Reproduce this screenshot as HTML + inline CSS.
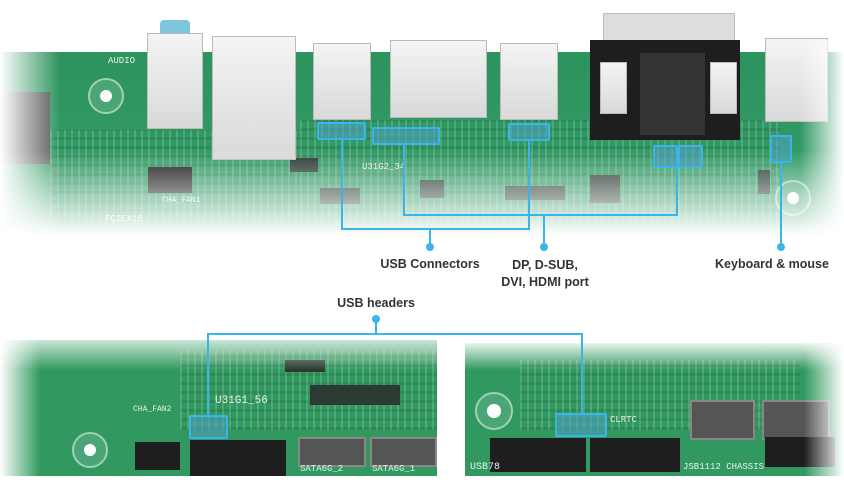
<!DOCTYPE html>
<html><head><meta charset="utf-8"><style>
*{margin:0;padding:0;box-sizing:border-box}
body{width:844px;height:501px;background:#fff;position:relative;overflow:hidden;font-family:"Liberation Sans",sans-serif}
.a{position:absolute}
.g{background:#2f9a62}
.tx{background-image:repeating-linear-gradient(90deg,rgba(220,240,230,.18) 0 2px,rgba(0,0,0,0) 2px 7px),repeating-linear-gradient(0deg,rgba(0,0,0,.10) 0 3px,rgba(0,0,0,0) 3px 9px)}
.w{background:linear-gradient(#f4f4f4,#d9d9d9);border:1px solid #bbb}
.k{background:#1e1e1e}
.c{background:#2b3b33}
.box{position:absolute;border:2px solid #3bb4ea;background:rgba(80,160,200,.55);border-radius:2px}
.l{position:absolute;background:#3bb4ea}
.dot{position:absolute;width:8px;height:8px;border-radius:50%;background:#3bb4ea}
.t{position:absolute;font-size:12.5px;font-weight:bold;color:#333;text-align:center;white-space:nowrap}
.s{position:absolute;font-size:9px;color:#e8f2ec;font-family:"Liberation Mono",monospace}
.hole{position:absolute;border-radius:50%;background:#4aa676;border:2px solid #9fd1b5}
.hole::after{content:"";position:absolute;left:30%;top:30%;width:40%;height:40%;border-radius:50%;background:#fff}
</style></head><body>
<!-- top board -->
<div class="a g" style="left:0;top:52px;width:844px;height:190px;background:linear-gradient(#2d935e,#34a06a)"></div>
<div class="a tx" style="left:300px;top:120px;width:480px;height:110px"></div>
<div class="a tx" style="left:50px;top:130px;width:250px;height:100px"></div>
<div class="a c" style="left:0;top:92px;width:50px;height:72px;background:#555"></div>
<div class="hole" style="left:88px;top:78px;width:36px;height:36px"></div>
<div class="hole" style="left:775px;top:180px;width:36px;height:36px"></div>
<div class="s" style="left:108px;top:56px">AUDIO</div>
<div class="s" style="left:105px;top:214px">PCIEX16</div>
<div class="s" style="left:162px;top:196px;font-size:8px">CHA_FAN1</div>
<div class="s" style="left:362px;top:162px">U31G2_34</div>
<div class="a k" style="left:148px;top:167px;width:44px;height:26px"></div>
<div class="a c" style="left:320px;top:188px;width:40px;height:16px"></div>
<div class="a c" style="left:590px;top:175px;width:30px;height:28px"></div>
<div class="a c" style="left:505px;top:186px;width:60px;height:14px"></div>
<div class="a c" style="left:420px;top:180px;width:24px;height:18px"></div>
<div class="a c" style="left:290px;top:158px;width:28px;height:14px"></div>
<div class="a c" style="left:758px;top:170px;width:12px;height:24px"></div>
<div class="a" style="left:160px;top:20px;width:30px;height:14px;background:#7fc6dd;border-radius:4px 4px 0 0"></div>
<div class="a w" style="left:147px;top:33px;width:56px;height:96px"></div>
<div class="a w" style="left:212px;top:36px;width:84px;height:124px"></div>
<div class="a w" style="left:313px;top:43px;width:58px;height:77px"></div>
<div class="a w" style="left:390px;top:40px;width:97px;height:78px"></div>
<div class="a w" style="left:500px;top:43px;width:58px;height:77px"></div>
<div class="a" style="left:603px;top:13px;width:132px;height:30px;background:#ddd;border:1px solid #bbb"></div>
<div class="a k" style="left:590px;top:40px;width:150px;height:100px"></div>
<div class="a" style="left:640px;top:53px;width:65px;height:82px;background:#333"></div>
<div class="a w" style="left:600px;top:62px;width:27px;height:52px"></div>
<div class="a w" style="left:710px;top:62px;width:27px;height:52px"></div>
<div class="a w" style="left:765px;top:38px;width:63px;height:84px"></div>
<!-- fades -->
<div class="a" style="left:0;top:150px;width:844px;height:95px;background:linear-gradient(rgba(255,255,255,0),#fff 90%)"></div>
<div class="a" style="left:0;top:40px;width:60px;height:210px;background:linear-gradient(90deg,#fff,rgba(255,255,255,0))"></div>
<div class="a" style="left:800px;top:40px;width:44px;height:210px;background:linear-gradient(270deg,#fff,rgba(255,255,255,0))"></div>
<!-- top callouts -->
<div class="box" style="left:317px;top:122px;width:49px;height:18px"></div>
<div class="box" style="left:372px;top:127px;width:68px;height:18px"></div>
<div class="box" style="left:508px;top:123px;width:42px;height:18px"></div>
<div class="box" style="left:653px;top:145px;width:25px;height:23px"></div>
<div class="box" style="left:678px;top:145px;width:25px;height:23px"></div>
<div class="box" style="left:770px;top:135px;width:22px;height:28px"></div>
<div class="l" style="left:341px;top:140px;width:2px;height:90px"></div>
<div class="l" style="left:528px;top:141px;width:2px;height:89px"></div>
<div class="l" style="left:341px;top:228px;width:189px;height:2px"></div>
<div class="l" style="left:429px;top:228px;width:2px;height:20px"></div>
<div class="dot" style="left:426px;top:243px"></div>
<div class="l" style="left:403px;top:144px;width:2px;height:72px"></div>
<div class="l" style="left:676px;top:168px;width:2px;height:48px"></div>
<div class="l" style="left:403px;top:214px;width:275px;height:2px"></div>
<div class="l" style="left:543px;top:214px;width:2px;height:34px"></div>
<div class="dot" style="left:540px;top:243px"></div>
<div class="l" style="left:780px;top:163px;width:2px;height:85px"></div>
<div class="dot" style="left:777px;top:243px"></div>
<div class="t" style="left:370px;top:257px;width:120px">USB Connectors</div>
<div class="t" style="left:485px;top:257px;width:120px;line-height:17px">DP, D-SUB,<br>DVI, HDMI port</div>
<div class="t" style="left:712px;top:257px;width:120px">Keyboard &amp; mouse</div>
<div class="t" style="left:316px;top:296px;width:120px">USB headers</div>
<!-- bottom-left board -->
<div class="a g" style="left:0;top:340px;width:437px;height:136px;background:#31995f"></div>
<div class="a tx" style="left:180px;top:350px;width:257px;height:80px"></div>
<div class="hole" style="left:72px;top:432px;width:36px;height:36px"></div>
<div class="s" style="left:215px;top:395px;font-size:11px">U31G1_56</div>
<div class="s" style="left:133px;top:405px;font-size:8px">CHA_FAN2</div>
<div class="a k" style="left:135px;top:442px;width:45px;height:28px"></div>
<div class="a k" style="left:190px;top:440px;width:96px;height:36px"></div>
<div class="a" style="left:298px;top:437px;width:68px;height:30px;background:#555;border:2px solid #888"></div>
<div class="a" style="left:370px;top:437px;width:67px;height:30px;background:#555;border:2px solid #888"></div>
<div class="s" style="left:300px;top:464px">SATA6G_2</div>
<div class="s" style="left:372px;top:464px">SATA6G_1</div>
<div class="a c" style="left:285px;top:360px;width:40px;height:12px"></div>
<div class="a c" style="left:310px;top:385px;width:90px;height:20px"></div>
<div class="a" style="left:0;top:330px;width:437px;height:40px;background:linear-gradient(#fff,rgba(255,255,255,0))"></div>
<div class="a" style="left:0;top:330px;width:40px;height:150px;background:linear-gradient(90deg,#fff,rgba(255,255,255,0))"></div>
<!-- bottom-right board -->
<div class="a g" style="left:465px;top:343px;width:379px;height:133px;background:#31995f"></div>
<div class="a tx" style="left:520px;top:360px;width:280px;height:70px"></div>
<div class="hole" style="left:475px;top:392px;width:38px;height:38px"></div>
<div class="a k" style="left:490px;top:438px;width:96px;height:34px"></div>
<div class="a k" style="left:590px;top:438px;width:90px;height:34px"></div>
<div class="a" style="left:690px;top:400px;width:65px;height:40px;background:#555;border:2px solid #888"></div>
<div class="a" style="left:762px;top:400px;width:68px;height:40px;background:#555;border:2px solid #888"></div>
<div class="a k" style="left:765px;top:437px;width:70px;height:30px"></div>
<div class="s" style="left:470px;top:462px;font-size:10px">USB78</div>
<div class="s" style="left:683px;top:462px;font-size:9px">JSB1112 CHASSIS</div>
<div class="s" style="left:610px;top:415px">CLRTC</div>
<div class="a" style="left:465px;top:340px;width:379px;height:30px;background:linear-gradient(#fff,rgba(255,255,255,0))"></div>
<div class="a" style="left:804px;top:340px;width:40px;height:140px;background:linear-gradient(270deg,#fff,rgba(255,255,255,0))"></div>
<!-- bottom callouts -->
<div class="box" style="left:189px;top:415px;width:39px;height:24px"></div>
<div class="box" style="left:555px;top:413px;width:52px;height:24px"></div>
<div class="l" style="left:207px;top:333px;width:2px;height:82px"></div>
<div class="l" style="left:581px;top:333px;width:2px;height:80px"></div>
<div class="l" style="left:207px;top:333px;width:376px;height:2px"></div>
<div class="l" style="left:375px;top:318px;width:2px;height:16px"></div>
<div class="dot" style="left:372px;top:315px"></div>
</body></html>
